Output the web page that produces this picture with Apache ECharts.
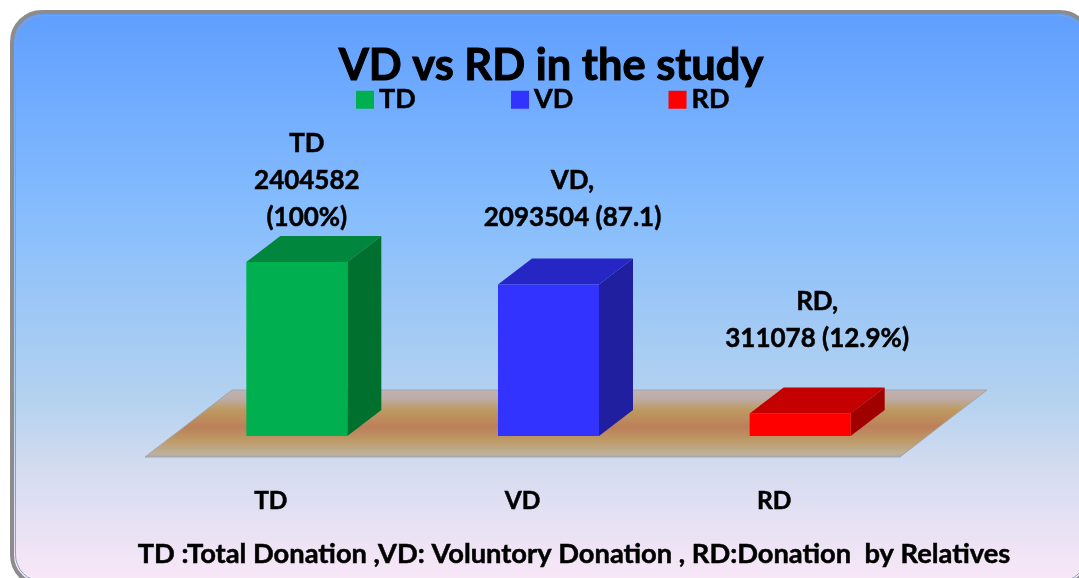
<!DOCTYPE html>
<html>
<head>
<meta charset="utf-8">
<title>VD vs RD in the study</title>
<style>
  html, body { margin: 0; padding: 0; background: #fff; }
  #main { width: 1079px; height: 578px; }
</style>
<script src="https://cdn.jsdelivr.net/npm/echarts@6/dist/echarts.min.js"></script>
</head>
<body>
<div id="main"></div>
<script>
const categories = ['TD', 'VD', 'RD']
const donations = [2404582, 2093504, 311078]
const valueLabels = ['TD\n2404582\n(100%)', 'VD,\n2093504 (87.1)', 'RD,\n311078 (12.9%)']
const frontColors = ['#00b050', '#3333ff', '#ff0000']
const topColors = ['#00863d', '#2626c4', '#c40000']
const sideColors = ['#00702f', '#1f1fa0', '#a00000']

const font = 'Lato'
const depthX = 34
const depthY = 26
const barWidth = 101
// the label is placed by hand above each bar, as in the original slide
const labelShift = [[10, -26], [24, -48], [17, -56]]

const chart = echarts.init(document.getElementById('main'))

function renderFloor(params, api) {
  const c = params.coordSys
  const x0 = c.x, x1 = c.x + c.width, y0 = c.y + c.height
  return {
    type: 'polygon',
    silent: true,
    shape: { points: [[x0, y0], [x1, y0], [x1 + 87, y0 - 67], [x0 + 87, y0 - 67]] },
    style: {
      fill: new echarts.graphic.LinearGradient(0, 0, 0, 1, [
        { offset: 0, color: '#c0b2b4' },
        { offset: 0.14, color: '#bdaca6' },
        { offset: 0.3, color: '#bd9a60' },
        { offset: 0.55, color: '#bc7f5a' },
        { offset: 0.75, color: '#be9a66' },
        { offset: 0.95, color: '#bfb09c' },
        { offset: 1, color: '#a9a6ac' }
      ]),
      stroke: '#a5a5a8',
      lineWidth: 1
    }
  }
}

function renderBar(params, api) {
  const i = api.value(0)
  const base = api.coord([i, 0])
  const top = api.coord([i, api.value(1)])
  // the front face stands halfway back on the floor
  const left = base[0] + 26 - barWidth / 2
  const right = left + barWidth
  const yBase = base[1] - 21
  const yTop = top[1] - 21
  return {
    type: 'group',
    children: [
      {
        type: 'polygon',
        shape: { points: [[left, yTop], [right, yTop], [right + depthX, yTop - depthY], [left + depthX, yTop - depthY]] },
        style: { fill: topColors[i] }
      },
      {
        type: 'polygon',
        shape: { points: [[right, yTop], [right + depthX, yTop - depthY], [right + depthX, yBase - depthY], [right, yBase]] },
        style: { fill: sideColors[i] }
      },
      {
        type: 'rect',
        shape: { x: left, y: yTop, width: barWidth, height: yBase - yTop },
        style: { fill: frontColors[i] }
      },
      {
        type: 'text',
        x: left + barWidth / 2 + labelShift[i][0],
        y: yTop + labelShift[i][1],
        style: {
          text: valueLabels[i],
          fontFamily: font,
          fontWeight: 'bold',
          fontSize: 26,
          lineHeight: 37,
          fill: '#000',
          stroke: '#000',
          lineWidth: 0.5,
          align: 'center',
          verticalAlign: 'bottom'
        }
      }
    ]
  }
}

const option = {
  animation: false,
  graphic: [
    {
      type: 'rect',
      z: -10,
      silent: true,
      shape: { x: 12, y: 12, width: 1078, height: 573, r: 30 },
      style: {
        fill: new echarts.graphic.LinearGradient(0, 0, 0, 1, [
          { offset: 0, color: '#5f9eff' },
          { offset: 0.35, color: '#86bdfd' },
          { offset: 0.68, color: '#b5d2ef' },
          { offset: 0.8, color: '#d5dcf0' },
          { offset: 1, color: '#fbe8f8' }
        ]),
        stroke: '#8c8c8c',
        lineWidth: 4
      }
    },
    {
      type: 'rect',
      z: -9,
      silent: true,
      shape: { x: 15.5, y: 15.5, width: 1071, height: 566, r: 27 },
      style: { fill: 'transparent', stroke: '#8f9fbf', lineWidth: 1 }
    }
  ],
  title: [
    {
      text: 'VD vs RD in the study',
      left: 546,
      top: 39,
      textAlign: 'center',
      textStyle: { fontFamily: font, fontWeight: 'bold', fontSize: 43.4, color: '#000', textBorderColor: '#000', textBorderWidth: 1 }
    },
    {
      text: 'TD :Total Donation ,VD: Voluntory Donation , RD:Donation  by Relatives',
      left: 569,
      top: 536,
      textAlign: 'center',
      textStyle: { fontFamily: font, fontWeight: 'bold', fontSize: 27.3, color: '#000', textBorderColor: '#000', textBorderWidth: 0.5 }
    }
  ],
  legend: {
    left: 351,
    top: 81,
    icon: 'rect',
    itemWidth: 18,
    itemHeight: 18,
    itemGap: 95,
    selectedMode: false,
    data: categories,
    textStyle: { fontFamily: font, fontWeight: 'bold', fontSize: 27, color: '#000', textBorderColor: '#000', textBorderWidth: 0.5 }
  },
  grid: { left: 145, width: 755, top: 239.9, height: 217.1 },
  xAxis: {
    type: 'category',
    data: categories,
    axisLine: { show: false },
    axisTick: { show: false },
    axisLabel: { margin: 32, fontFamily: font, fontWeight: 'bold', fontSize: 24.5, color: '#000', textBorderColor: '#000', textBorderWidth: 0.5 }
  },
  yAxis: { type: 'value', min: 0, max: 3000000, show: false },
  series: [
    {
      type: 'custom',
      silent: true,
      z: 1,
      renderItem: renderFloor,
      data: [[0, 0]],
      encode: { x: 0, y: 1 }
    }
  ].concat(categories.map((name, i) => ({
    name: name,
    type: 'custom',
    z: 2,
    renderItem: renderBar,
    itemStyle: { color: frontColors[i] },
    data: [[i, donations[i]]],
    encode: { x: 0, y: 1 }
  })))
}

chart.setOption(option)
</script>
</body>
</html>
